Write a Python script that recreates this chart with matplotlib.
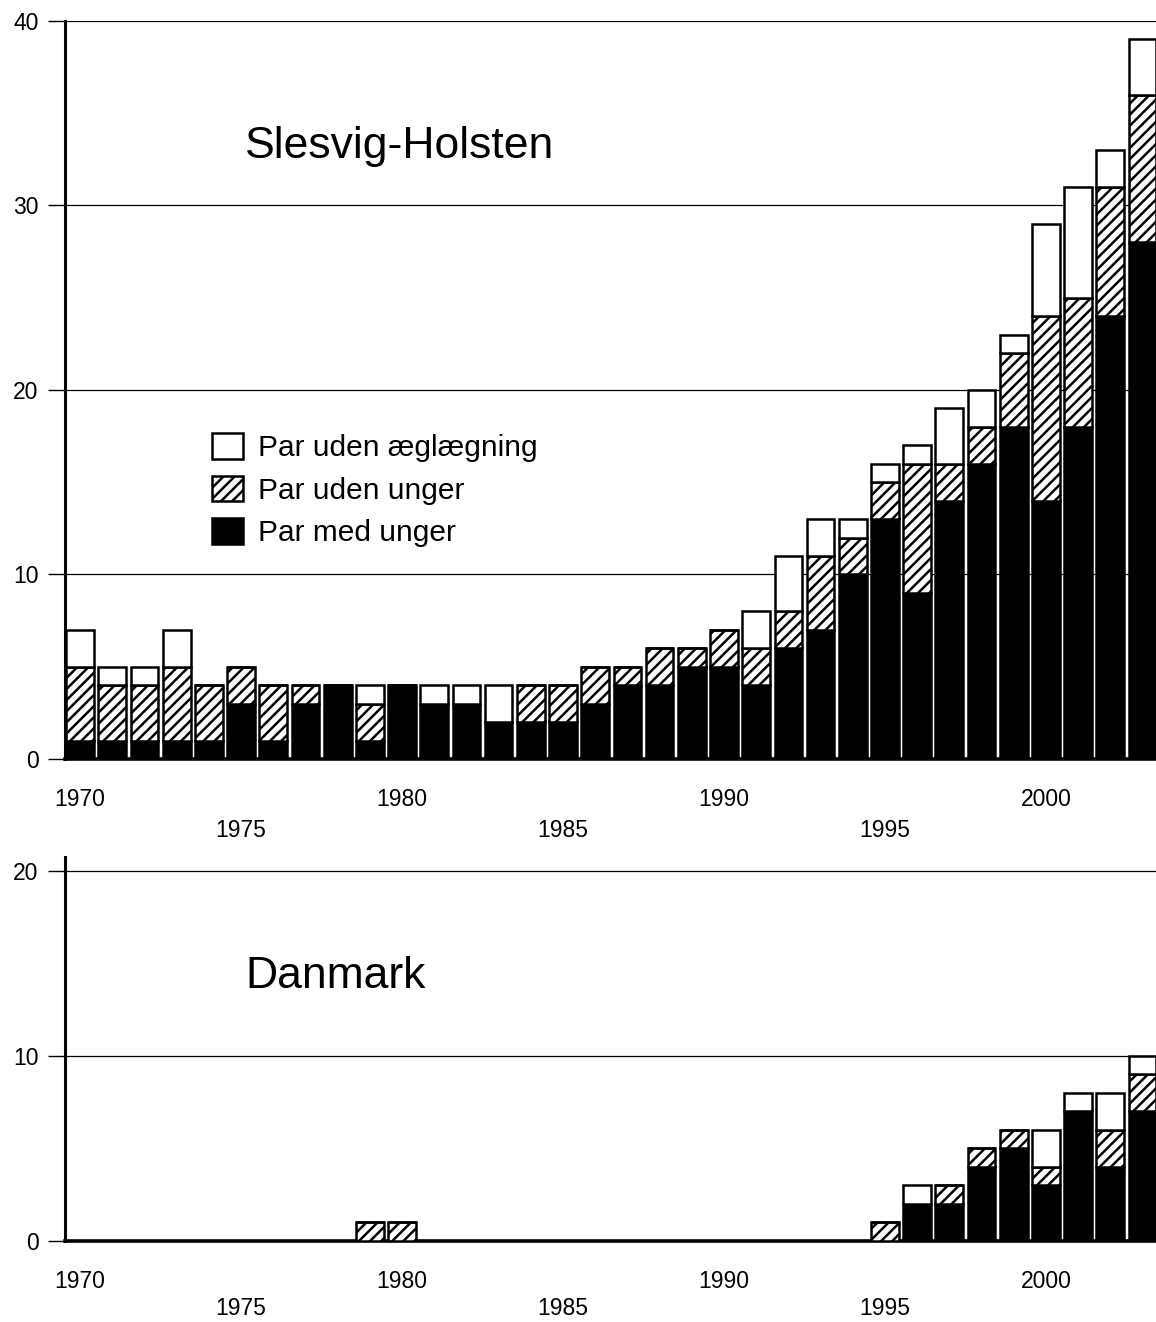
import matplotlib
matplotlib.use("Agg")
import matplotlib.pyplot as plt
import numpy as np

plt.rcParams['font.family'] = ['Liberation Sans', 'DejaVu Sans']
plt.rcParams['hatch.linewidth'] = 1.8

years = list(range(1970, 2004))

# Slesvig-Holsten
sh_med_unger = [1, 1, 1, 1, 1, 3, 1, 3, 4, 1, 4, 3, 3, 2, 2, 2, 3, 4, 4, 5,
                5, 4, 6, 7, 10, 13, 9, 14, 16, 18, 14, 18, 24, 28]
sh_uden_unger = [4, 3, 3, 4, 3, 2, 3, 1, 0, 2, 0, 0, 0, 0, 2, 2, 2, 1, 2, 1,
                 2, 2, 2, 4, 2, 2, 7, 2, 2, 4, 10, 7, 7, 8]
sh_uden_aeg = [2, 1, 1, 2, 0, 0, 0, 0, 0, 1, 0, 1, 1, 2, 0, 0, 0, 0, 0, 0,
               0, 2, 3, 2, 1, 1, 1, 3, 2, 1, 5, 6, 2, 3]

# Danmark
dk_med_unger = [0, 0, 0, 0, 0, 0, 0, 0, 0, 0, 0, 0, 0, 0, 0, 0, 0, 0, 0, 0,
                0, 0, 0, 0, 0, 0, 2, 2, 4, 5, 3, 7, 4, 7]
dk_uden_unger = [0, 0, 0, 0, 0, 0, 0, 0, 0, 1, 1, 0, 0, 0, 0, 0, 0, 0, 0, 0,
                 0, 0, 0, 0, 0, 1, 0, 1, 1, 1, 1, 0, 2, 2]
dk_uden_aeg = [0, 0, 0, 0, 0, 0, 0, 0, 0, 0, 0, 0, 0, 0, 0, 0, 0, 0, 0, 0,
               0, 0, 0, 0, 0, 0, 1, 0, 0, 0, 2, 1, 2, 1]

labels = ["Par uden æglægning", "Par uden unger", "Par med unger"]
major_years = [1970, 1980, 1990, 2000]
minor_years = [1975, 1985, 1995]

W, H = 1156, 1322
fig = plt.figure(figsize=(W / 100, H / 100), dpi=100)
ax1 = fig.add_axes([65 / W, 1 - 759 / H, 1091 / W, 738 / H])
ax2 = fig.add_axes([65 / W, 1 - 1241 / H, 1091 / W, 384 / H])

bw = 0.86
lw = 1.8


def draw(ax, med, uden, aeg, ymax, yticks, minor_pad):
    med = np.array(med, float)
    uden = np.array(uden, float)
    aeg = np.array(aeg, float)
    b1 = ax.bar(years, med, width=bw, color='black', edgecolor='black',
                linewidth=lw, zorder=3)
    b2 = ax.bar(years, uden, bottom=med, width=bw, color='white',
                edgecolor='black', hatch='///', linewidth=lw, zorder=3)
    b3 = ax.bar(years, aeg, bottom=med + uden, width=bw, color='white',
                edgecolor='black', linewidth=lw, zorder=3)
    ax.set_xlim(1969.53, 2003.42)
    ax.set_ylim(0, ymax)
    ax.set_yticks(yticks)
    ax.yaxis.grid(True, color='black', linewidth=0.9, zorder=0)
    ax.set_axisbelow(True)
    for s in ['top', 'right']:
        ax.spines[s].set_visible(False)
    ax.spines['left'].set_linewidth(2.2)
    ax.spines['bottom'].set_linewidth(2.6)
    ax.tick_params(axis='y', length=12, width=1.0, pad=7, labelsize=16.5)
    ax.set_xticks(major_years)
    ax.set_xticklabels([str(y) for y in major_years])
    ax.set_xticks(minor_years, minor=True)
    ax.set_xticklabels([str(y) for y in minor_years], minor=True)
    ax.tick_params(axis='x', which='major', length=0, pad=21, labelsize=16.5)
    ax.tick_params(axis='x', which='minor', length=0, pad=minor_pad,
                   labelsize=16.5)
    return b1, b2, b3


b1, b2, b3 = draw(ax1, sh_med_unger, sh_uden_unger, sh_uden_aeg, 40,
                  [0, 10, 20, 30, 40], 43)
draw(ax2, dk_med_unger, dk_uden_unger, dk_uden_aeg, 20.75, [0, 10, 20], 40)

ax1.text(0.165, 0.83, "Slesvig-Holsten", transform=ax1.transAxes,
         fontsize=32, va='center', ha='left')
ax2.text(0.165, 0.69, "Danmark", transform=ax2.transAxes,
         fontsize=32, va='center', ha='left')

fig.legend([b3, b2, b1], labels, loc='upper left',
           bbox_to_anchor=(212 / W, 1 - 433 / H), frameon=False,
           fontsize=21.5, handlelength=1.05, handleheight=0.95,
           handletextpad=0.5, labelspacing=0.45, borderpad=0,
           borderaxespad=0)

fig.savefig("out.png", dpi=100)
